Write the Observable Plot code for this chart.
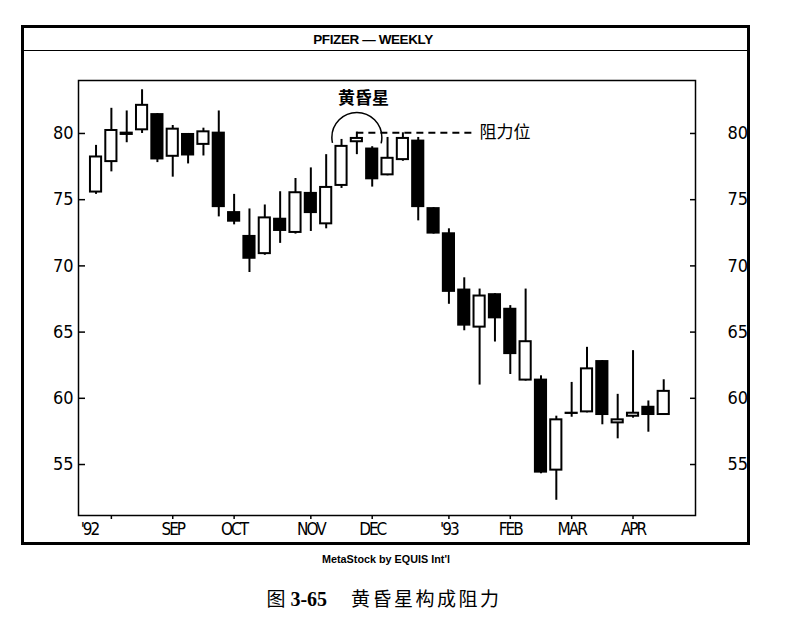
<!DOCTYPE html>
<html>
<head>
<meta charset="utf-8">
<script src="https://cdn.jsdelivr.net/npm/d3@7"></script>
<script src="https://cdn.jsdelivr.net/npm/@observablehq/plot@0.6"></script>
<style>
  body { margin: 0; background: #fff; }
  #wrap { position: relative; width: 797px; height: 625px; overflow: hidden; background: #fff; }
  #chart { position: absolute; left: 0; top: 0; }
  #frame { position: absolute; left: 21px; top: 25px; width: 723px; height: 514px; border: 3px solid #000; pointer-events: none; }
  #titlebar { position: absolute; left: 0; right: 0; top: 0; height: 22px; border-bottom: 1.5px solid #000; }
  #titlebar span { position: absolute; left: 349px; top: 5px; transform: translateX(-50%); white-space: nowrap;
    font: bold 13.5px "Liberation Sans", Arial, sans-serif; line-height: 14px; letter-spacing: -0.4px; }
  #credit { position: absolute; left: 386px; top: 552px; transform: translateX(-50%); white-space: nowrap;
    font: bold 10.8px "Liberation Sans", Arial, sans-serif; line-height: 14px; }
  #caption { position: absolute; left: 384px; top: 586px; transform: translateX(-50%); white-space: nowrap;
    font: 19px "Noto Sans CJK SC", sans-serif; line-height: 24px; }
  #caption .num { font-family: "Liberation Serif", "DejaVu Serif", serif; font-size: 20px; font-weight: bold; margin-left: 5px; }
  #caption .txt { margin-left: 24px; letter-spacing: 2.5px; }
  #chart g[aria-label="x-axis tick label"] text, #chart .yrlabel text { letter-spacing: -2px; }
</style>
</head>
<body>
<div id="wrap">
  <div id="chart"></div>
  <div id="frame"><div id="titlebar"><span>PFIZER — WEEKLY</span></div></div>
  <div id="credit">MetaStock by EQUIS Int'l</div>
  <div id="caption">图<span class="num">3-65</span><span class="txt">黄昏星构成阻力</span></div>
</div>
<script>
// Weekly bars (week-ending Fridays), Pfizer 1992-1993
const dates = [
  "1992-07-31","1992-08-07","1992-08-14","1992-08-21","1992-08-28",
  "1992-09-04","1992-09-11","1992-09-18","1992-09-25",
  "1992-10-02","1992-10-09","1992-10-16","1992-10-23","1992-10-30",
  "1992-11-06","1992-11-13","1992-11-20","1992-11-27",
  "1992-12-04","1992-12-11","1992-12-18","1992-12-25",
  "1993-01-01","1993-01-08","1993-01-15","1993-01-22","1993-01-29",
  "1993-02-05","1993-02-12","1993-02-19","1993-02-26",
  "1993-03-05","1993-03-12","1993-03-19","1993-03-26",
  "1993-04-02","1993-04-09","1993-04-16"
];
const open  = [75.5,77.8,79.85,80.2,81.5,78.2,80.0,79.1,80.1,74.1,72.3,70.85,73.6,72.45,75.55,73.1,76.0,79.3,78.9,76.8,77.95,79.5,74.4,72.5,68.25,65.3,67.9,66.8,61.3,61.45,54.5,58.78,58.9,62.85,58.07,58.57,59.4,58.7];
const high  = [79.1,81.9,81.7,83.3,81.5,80.6,80.0,80.4,81.7,75.4,74.3,74.6,75.6,76.6,77.4,78.4,79.55,80.1,79.0,79.7,80.05,79.7,74.4,72.8,69.1,68.25,67.9,67.0,68.25,61.7,58.65,61.2,63.85,62.85,60.3,63.6,59.8,61.4];
const low   = [75.4,77.1,79.3,80.0,77.8,76.7,77.7,78.3,73.7,73.1,69.5,70.8,71.7,72.4,72.6,72.8,75.85,78.4,75.95,76.8,77.9,73.4,72.4,67.1,65.1,61.0,64.25,61.8,61.3,54.3,52.3,58.57,58.9,58.0,56.94,58.5,57.44,58.7];
const close = [78.3,80.3,80.1,82.2,78.0,80.4,78.3,80.2,74.4,73.3,70.5,73.7,72.6,75.6,73.95,76.0,79.1,79.7,76.5,78.2,79.7,74.4,72.4,68.0,65.45,67.8,66.0,63.3,64.35,54.35,58.45,58.95,62.3,58.7,58.45,58.95,58.7,60.6];

// x-axis ticks (first weekly bar of each month) and their labels
const tickDates  = ["1992-08-07","1992-09-04","1992-10-02","1992-11-06","1992-12-04","1993-01-08","1993-02-05","1993-03-05","1993-04-02"];
const tickLabels = ["","SEP","OCT","NOV","DEC","'93","FEB","MAR","APR"];
const yearLabel = [{date: "1992-07-28", text: "'92"}];
const yTicks = [55, 60, 65, 70, 75, 80];

// annotations
const starNote = [{date: "1992-11-27", price: 79.7}];
const starLabel = [{date: "1992-11-30", price: 82.6, text: "黄昏星"}];
const resistance = [{from: "1992-11-27", to: "1993-01-19T12:00", price: 80.05}];
const resistLabel = [{date: "1993-01-22", price: 80.1, text: "阻力位"}];

const DAY = 864e5;
const bars = dates.map((d, i) => ({
  date: new Date(d), open: open[i], high: high[i], low: low[i], close: close[i],
  up: close[i] >= open[i]
}));
const half = 3 * DAY;
const up = bars.filter(b => b.up), down = bars.filter(b => !b.up);
const tickDateObjs = tickDates.map(d => new Date(d));
const labelOf = new Map(tickDateObjs.map((d, i) => [+d, tickLabels[i]]));
const narrow = '"Liberation Sans Narrow", "DejaVu Sans Condensed", sans-serif';
const cjk = '"Noto Sans CJK SC", sans-serif';

const chart = Plot.plot({
  width: 797,
  height: 560,
  marginLeft: 78,
  marginRight: 102,
  marginTop: 80,
  marginBottom: 45,
  style: {background: "transparent", color: "#000"},
  x: {type: "utc", domain: [new Date("1992-07-23"), new Date("1993-04-30T12:00")]},
  y: {domain: [51.15, 84.0]},
  marks: [
    Plot.axisY({anchor: "left", ticks: yTicks, tickSize: -7, tickPadding: 12, strokeWidth: 1.5,
      fontFamily: narrow, fontSize: 18, tickFormat: d => d}),
    Plot.axisY({anchor: "right", ticks: yTicks, tickSize: -6, tickPadding: 38, strokeWidth: 1.5,
      fontFamily: narrow, fontSize: 18, textAnchor: "start", tickFormat: d => d}),
    Plot.axisX({ticks: tickDateObjs, tickSize: 4, tickPadding: 3, strokeWidth: 1.5,
      fontFamily: narrow, fontSize: 17, tickFormat: d => labelOf.get(+d) ?? ""}),
    Plot.text(yearLabel, {x: d => new Date(d.date), text: "text", frameAnchor: "bottom", lineAnchor: "top",
      dy: 7, fontFamily: narrow, fontSize: 17, className: "yrlabel"}),
    Plot.frame({stroke: "#000", strokeWidth: 1.5}),
    // wicks
    Plot.ruleX(bars, {x: "date", y1: "low", y2: "high", stroke: "#000", strokeWidth: 2}),
    // bodies
    Plot.rect(down, {x1: d => new Date(+d.date - half), x2: d => new Date(+d.date + half),
      y1: "open", y2: "close", fill: "#000"}),
    Plot.rect(up, {x1: d => new Date(+d.date - half), x2: d => new Date(+d.date + half),
      y1: "open", y2: "close", fill: "#fff", stroke: "#000", strokeWidth: 2, inset: 1}),
    // evening star annotation
    Plot.dot(starNote, {x: d => new Date(d.date), y: "price", r: 25, fill: "none", stroke: "#000",
      strokeWidth: 1.5, strokeDasharray: "90.8,66.3", strokeDashoffset: 84.7}),
    Plot.text(starLabel, {x: d => new Date(d.date), y: "price", text: "text", fontFamily: cjk,
      fontSize: 17, fontWeight: "bold", fill: "#000"}),
    Plot.ruleY(resistance, {x1: d => new Date(d.from), x2: d => new Date(d.to), y: "price",
      stroke: "#000", strokeWidth: 2, strokeDasharray: "7,5"}),
    Plot.text(resistLabel, {x: d => new Date(d.date), y: "price", text: "text", textAnchor: "start",
      fontFamily: cjk, fontSize: 17, fill: "#000"})
  ]
});
document.getElementById("chart").appendChild(chart);
</script>
</body>
</html>
